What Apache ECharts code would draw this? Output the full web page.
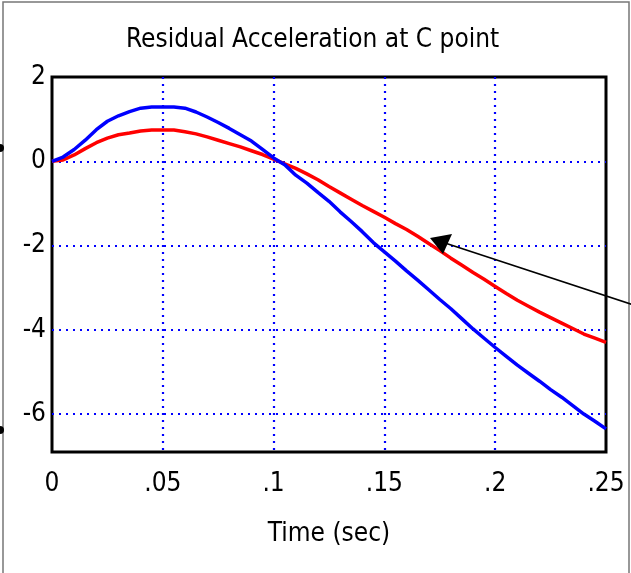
<!DOCTYPE html>
<html>
<head>
<meta charset="utf-8">
<script src="https://cdn.jsdelivr.net/npm/echarts@6/dist/echarts.min.js"></script>
<style>
  html, body { margin: 0; padding: 0; background: #fff; }
  #chart { width: 631px; height: 573px; }
</style>
</head>
<body>
<div id="chart"></div>
<script>
// time axis (sec)
const timeSec = [0, .005, .01, .015, .02, .025, .03, .035, .04, .045, .05, .055, .06, .065, .07, .075, .08, .085, .09, .095,
  .1, .105, .11, .115, .12, .125, .13, .135, .14, .145, .15, .155, .16, .165, .17, .175, .18, .185, .19, .195,
  .2, .205, .21, .215, .22, .225, .23, .235, .24, .245, .25]
// blue curve
const blueAcc = [0, 0.10, 0.28, 0.50, 0.75, 0.95, 1.08, 1.18, 1.26, 1.29, 1.29, 1.29, 1.26, 1.17, 1.05, 0.92, 0.78, 0.63, 0.48, 0.28,
  0.08, -0.08, -0.33, -0.52, -0.74, -0.95, -1.20, -1.43, -1.67, -1.93, -2.15, -2.37, -2.60, -2.82, -3.05, -3.28, -3.50, -3.74, -3.98, -4.20,
  -4.42, -4.63, -4.84, -5.03, -5.22, -5.42, -5.60, -5.80, -6.00, -6.17, -6.35]
// red curve
const redAcc = [0, 0.03, 0.15, 0.30, 0.44, 0.55, 0.63, 0.67, 0.72, 0.74, 0.74, 0.74, 0.70, 0.65, 0.58, 0.50, 0.42, 0.34, 0.25, 0.16,
  0.05, -0.06, -0.17, -0.30, -0.44, -0.60, -0.75, -0.90, -1.05, -1.19, -1.33, -1.48, -1.62, -1.78, -1.95, -2.12, -2.30, -2.47, -2.64, -2.80,
  -2.97, -3.14, -3.30, -3.44, -3.58, -3.71, -3.84, -3.97, -4.10, -4.20, -4.30]
const yLabels = [2, 0, -2, -4, -6]
const yGrid = [0, -2, -4, -6]
const xLabels = [0, 0.05, 0.1, 0.15, 0.2, 0.25]
const xGrid = [0.05, 0.1, 0.15, 0.2]

const font = '"DejaVu Sans Condensed", "Liberation Sans Narrow", sans-serif'
const pair = (ys) => timeSec.map((t, i) => [t, ys[i]])
//蓝色点线网格
const gridLine = { show: true, lineStyle: { color: '#0000ff', width: 2.2, type: [2, 5] } }

const mychart = echarts.init(document.getElementById('chart'))
mychart.setOption({
  animation: false,
  title: {
    text: 'Residual Acceleration at C point',
    left: 121,
    top: 22,
    textStyle: { fontFamily: font, fontSize: 26, fontWeight: 'normal', color: '#000' }
  },
  grid: {
    left: 52, right: 25, top: 77, bottom: 121,
    show: true, borderColor: '#000', borderWidth: 3, backgroundColor: '#fff'
  },
  xAxis: {
    type: 'value',
    min: 0, max: 0.25,
    name: 'Time (sec)',
    nameLocation: 'middle',
    nameGap: 69,
    nameTextStyle: { fontFamily: font, fontSize: 26, color: '#000' },
    axisLine: { show: false },
    axisTick: { show: false, customValues: xGrid },
    axisLabel: {
      fontFamily: font, fontSize: 26, color: '#000', margin: 19, customValues: xLabels,
      formatter: v => v === 0 ? '0' : String(+v.toFixed(2)).replace(/^0/, '')
    },
    splitLine: gridLine
  },
  yAxis: {
    type: 'value',
    min: -6.9, max: 2,
    axisLine: { show: false },
    axisTick: { show: false, customValues: yGrid },
    axisLabel: { fontFamily: font, fontSize: 26, color: '#000', margin: 6, customValues: yLabels },
    splitLine: gridLine
  },
  series: [
    {
      type: 'line', data: pair(redAcc), showSymbol: false, z: 3,
      lineStyle: { color: '#ff0000', width: 3.5 }
    },
    {
      type: 'line', data: pair(blueAcc), showSymbol: false, z: 4,
      lineStyle: { color: '#0000ff', width: 3.5 }
    }
  ],
  graphic: [
    // outer frame
    { type: 'rect', shape: { x: 3, y: 2, width: 626, height: 580 }, style: { fill: 'none', stroke: '#777', lineWidth: 1.5 }, z: 0 },
    // cut-off markers on left edge
    { type: 'circle', shape: { cx: 0, cy: 148, r: 4 }, style: { fill: '#000' } },
    { type: 'circle', shape: { cx: 0, cy: 430, r: 4 }, style: { fill: '#000' } },
    // annotation arrow
    { type: 'line', shape: { x1: 445, y1: 243, x2: 640, y2: 307 }, style: { stroke: '#000', lineWidth: 1.6 }, z: 10 },
    { type: 'polygon', shape: { points: [[430, 238], [452, 234], [443, 254]] }, style: { fill: '#000' }, z: 10 }
  ]
})
</script>
</body>
</html>
